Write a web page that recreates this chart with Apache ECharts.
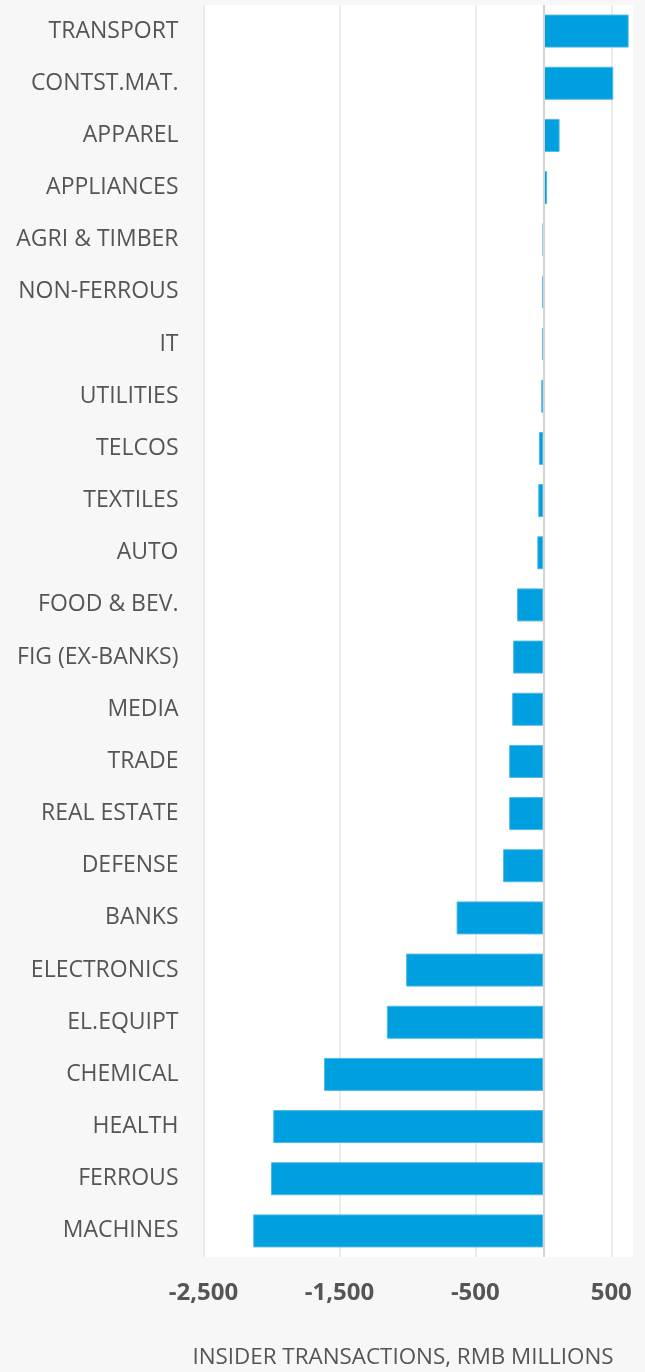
<!DOCTYPE html>
<html>
<head>
<meta charset="utf-8">
<script src="https://cdn.jsdelivr.net/npm/echarts@6/dist/echarts.min.js"></script>
<style>
  html, body { margin: 0; padding: 0; background: #f7f7f7; }
  #chart { width: 645px; height: 1372px; }
</style>
</head>
<body>
<div id="chart"></div>
<script>
const categories = [
  'TRANSPORT', 'CONTST.MAT.', 'APPAREL', 'APPLIANCES', 'AGRI & TIMBER',
  'NON-FERROUS', 'IT', 'UTILITIES', 'TELCOS', 'TEXTILES', 'AUTO',
  'FOOD & BEV.', 'FIG (EX-BANKS)', 'MEDIA', 'TRADE', 'REAL ESTATE',
  'DEFENSE', 'BANKS', 'ELECTRONICS', 'EL.EQUIPT', 'CHEMICAL', 'HEALTH',
  'FERROUS', 'MACHINES'
];
const values = [
  628, 515, 120, 28, -2,
  -7, -7, -15, -32, -37, -44,
  -193, -222, -229, -251, -251,
  -296, -638, -1009, -1151, -1613, -1987,
  -2004, -2134
];
const xMin = -2500;
const xMax = 660;
const xInterval = 1000;
const axisTitle = 'INSIDER TRANSACTIONS, RMB MILLIONS';

const chart = echarts.init(document.getElementById('chart'), null, { renderer: 'canvas' });
const textColor = '#555555';
chart.setOption({
  backgroundColor: '#f7f7f7',
  animation: false,
  grid: {
    left: 203.5, right: 12, top: 5, bottom: 115,
    show: true, backgroundColor: '#ffffff', borderWidth: 0
  },
  xAxis: {
    type: 'value',
    min: xMin, max: xMax, interval: xInterval,
    axisLine: { show: false },
    axisTick: { show: false },
    splitLine: { show: true, showMaxLine: false, lineStyle: { color: '#e6e6e6', width: 1.5 } },
    axisLabel: {
      showMaxLabel: false,
      margin: 24,
      fontFamily: 'Open Sans', fontWeight: 'bold', fontSize: 24, color: textColor,
      formatter: function (v) { return v.toLocaleString('en-US'); }
    }
  },
  yAxis: {
    type: 'category',
    data: categories,
    inverse: true,
    axisLine: { show: false },
    axisTick: { show: false },
    splitLine: { show: false },
    axisLabel: {
      margin: 25,
      padding: [4, 0, 0, 0],
      fontFamily: 'Open Sans', fontSize: 23, color: textColor
    }
  },
  series: [{
    type: 'bar',
    data: values,
    barWidth: 33,
    itemStyle: { color: '#009fdf', borderColor: '#4fb9e6', borderWidth: 1 },
    markLine: {
      silent: true,
      symbol: 'none',
      label: { show: false },
      lineStyle: { color: '#d4d4d4', width: 2, type: 'solid' },
      data: [{ xAxis: 0 }]
    }
  }],
  graphic: [{
    type: 'text',
    x: 403, y: 1358,
    style: {
      text: axisTitle,
      fontFamily: 'Open Sans', fontSize: 22.4, fill: textColor,
      textAlign: 'center', textVerticalAlign: 'middle'
    }
  }]
});
</script>
</body>
</html>
